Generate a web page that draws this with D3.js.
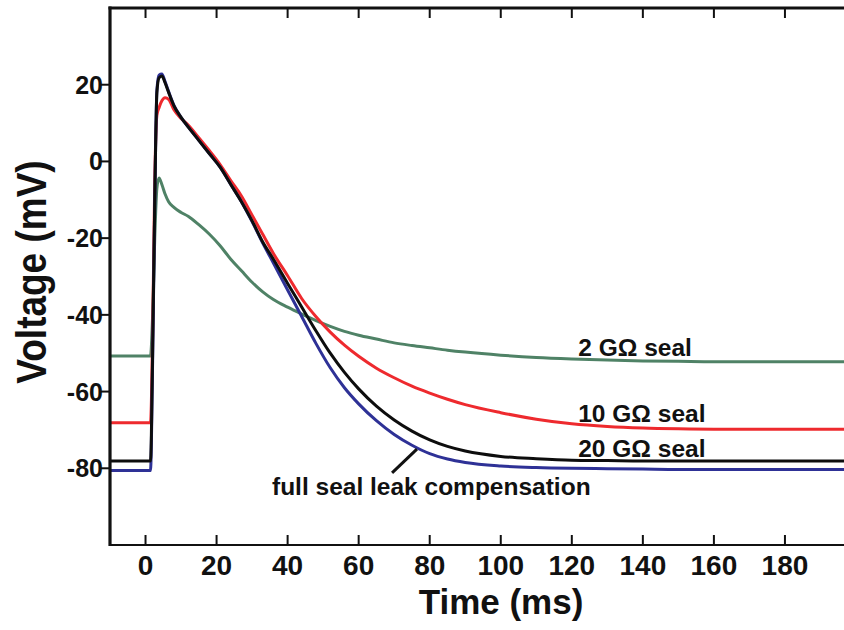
<!DOCTYPE html>
<html>
<head>
<meta charset="utf-8">
<script src="https://cdn.jsdelivr.net/npm/d3@7/dist/d3.min.js"></script>
<style>
  html, body { margin: 0; padding: 0; background: #ffffff; }
  svg { display: block; }
  text { font-family: "Liberation Sans", Arial, Helvetica, sans-serif; font-weight: bold; fill: #111; }
</style>
</head>
<body>
<script>
// ---- data (time in ms, voltage in mV) ----
const timeMs = [-10, 1.4, 2.0, 2.6, 3.2, 3.8, 4.6, 5.5, 6.5, 8, 10, 12, 15, 18, 21, 24, 27, 30, 33, 36, 40, 44, 48, 52, 56, 60, 65, 70, 75, 80, 85, 90, 100, 110, 120, 130, 140, 150, 160, 180, 200];
const seal2G   = [-50.7, -50.7, -40, -20, -7, -4.3, -6, -8.5, -10.5, -12, -13.3, -14.3, -16.5, -19, -22, -25.5, -28.5, -31.5, -34, -36, -38, -39.8, -41.5, -43, -44.3, -45.3, -46.3, -47.3, -48, -48.6, -49.2, -49.7, -50.5, -51.1, -51.5, -51.8, -52, -52.1, -52.2, -52.2, -52.2];
const seal10G  = [-68.1, -68.1, -45, -5, 12, 14, 15.8, 16.6, 16.2, 13.5, 11.2, 9.5, 6.2, 2.8, -0.8, -5, -9, -14, -19, -24, -29.8, -35.8, -40.5, -44.5, -47.9, -50.8, -53.9, -56.4, -58.6, -60.4, -62, -63.4, -65.5, -67.2, -68.4, -69.1, -69.5, -69.7, -69.8, -69.8, -69.8];
const seal20G  = [-78.1, -78.1, -50, -10, 18, 21.8, 22.3, 20.5, 18, 14.5, 11.5, 9, 5.5, 2, -1.5, -6, -10.5, -15.5, -21, -25.5, -31.8, -38, -44.2, -50, -55, -59.3, -63.8, -67.4, -70.3, -72.6, -74.3, -75.5, -76.9, -77.5, -77.9, -78.0, -78.1, -78.1, -78.1, -78.1, -78.1];
const fullComp = [-80.6, -80.6, -52, -11, 18.5, 22.5, 22.8, 20.8, 18.2, 14.6, 11.5, 9, 5.5, 2, -1.5, -6, -10.5, -15.7, -21.3, -26.5, -33.5, -40.5, -47.5, -53.8, -59, -63.2, -67.6, -71.2, -74, -76.2, -77.6, -78.5, -79.4, -79.8, -80, -80.1, -80.2, -80.3, -80.3, -80.3, -80.3];

const seriesNames  = ["2 GΩ seal", "10 GΩ seal", "full seal leak compensation", "20 GΩ seal"];
const seriesValues = [seal2G, seal10G, fullComp, seal20G];
const seriesColors = ["#4f8266", "#ee2a2e", "#2e3196", "#0d0d0d"];

const xTicks = [0, 20, 40, 60, 80, 100, 120, 140, 160, 180];
const yTicks = [-80, -60, -40, -20, 0, 20];

// label anchors in data units: [time, voltage]
const labelText = ["2 GΩ seal", "10 GΩ seal", "20 GΩ seal", "full seal leak compensation"];
const labelPos  = [[121.8, -50.8], [121.8, -68.0], [121.8, -77.1], [35.6, -87.0]];
const leaderLine = [[69.4, -81.2], [76.4, -75.0]];

// ---- layout ----
const W = 844, H = 630;
const svg = d3.select("body").append("svg").attr("width", W).attr("height", H);

const x = d3.scaleLinear().domain([-10, 200]).range([110, 856]);
const y = d3.scaleLinear().domain([-100, 40]).range([545, 8]);

// curves
const line = d3.line().x(d => x(d[0])).y(d => y(d[1])).curve(d3.curveMonotoneX);
seriesValues.forEach((vals, i) => {
  svg.append("path")
    .datum(timeMs.map((t, k) => [t, vals[k]]))
    .attr("fill", "none")
    .attr("stroke", seriesColors[i])
    .attr("stroke-width", 3)
    .attr("stroke-linejoin", "round")
    .attr("d", line);
});

// axes lines
svg.append("line").attr("x1", x(-10)).attr("x2", W).attr("y1", y(-100)).attr("y2", y(-100)).attr("stroke", "#111").attr("stroke-width", 2);
svg.append("line").attr("x1", x(-10) - 1.5).attr("x2", W).attr("y1", y(40)).attr("y2", y(40)).attr("stroke", "#111").attr("stroke-width", 3.2);
svg.append("line").attr("x1", x(-10)).attr("x2", x(-10)).attr("y1", y(40) - 1.5).attr("y2", y(-100) + 1).attr("stroke", "#111").attr("stroke-width", 3.2);

// bottom ticks (inward) + labels, top ticks (inward)
xTicks.forEach(t => {
  svg.append("line").attr("x1", x(t)).attr("x2", x(t)).attr("y1", y(-100)).attr("y2", y(-100) - 10).attr("stroke", "#111").attr("stroke-width", 2);
  svg.append("text").attr("x", x(t)).attr("y", 575).attr("text-anchor", "middle").attr("font-size", 28).text(t);
  svg.append("line").attr("x1", x(t)).attr("x2", x(t)).attr("y1", y(40)).attr("y2", y(40) + 10).attr("stroke", "#111").attr("stroke-width", 2);
});

// left ticks (outward) + labels
yTicks.forEach(v => {
  svg.append("line").attr("x1", x(-10)).attr("x2", x(-10) - 10).attr("y1", y(v)).attr("y2", y(v)).attr("stroke", "#111").attr("stroke-width", 2);
  svg.append("text").attr("x", 103).attr("y", y(v) + 9).attr("text-anchor", "end").attr("font-size", 25).text(v);
});

// axis titles
svg.append("text").attr("x", 501).attr("y", 614).attr("text-anchor", "middle").attr("font-size", 35).text("Time (ms)");
svg.append("text").attr("transform", "translate(46,272) rotate(-90) scale(1,1.15)").attr("text-anchor", "middle").attr("font-size", 37).text("Voltage (mV)");

// annotations
labelText.forEach((s, i) => {
  svg.append("text").attr("x", x(labelPos[i][0])).attr("y", y(labelPos[i][1])).attr("font-size", 24.5).text(s);
});
svg.append("line")
  .attr("x1", x(leaderLine[0][0])).attr("y1", y(leaderLine[0][1]))
  .attr("x2", x(leaderLine[1][0])).attr("y2", y(leaderLine[1][1]))
  .attr("stroke", "#111").attr("stroke-width", 3);
</script>
</body>
</html>
